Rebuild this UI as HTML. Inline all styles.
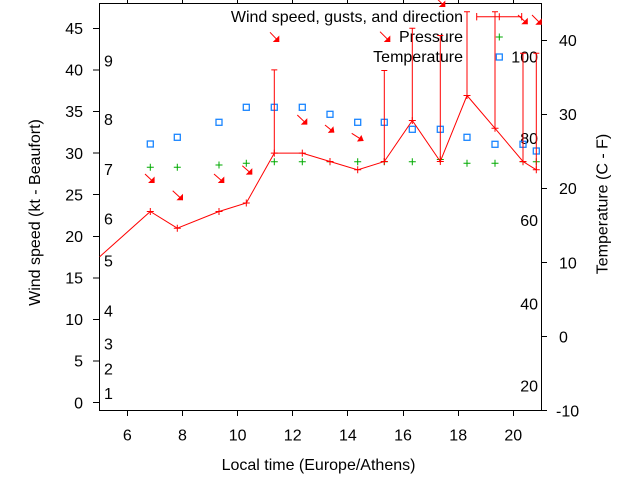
<!DOCTYPE html>
<html>
<head>
<meta charset="utf-8">
<style>
html,body{margin:0;padding:0;background:#fff;}
svg{display:block;}
text{font-family:"Liberation Sans",Arial,sans-serif;font-size:16px;fill:#000;}
</style>
</head>
<body>
<svg width="640" height="480" viewBox="0 0 640 480" xmlns="http://www.w3.org/2000/svg">
<rect width="640" height="480" fill="#fff"/>

<!-- axes frame and ticks -->
<g stroke="#000" stroke-width="1" fill="none" shape-rendering="crispEdges">
  <rect x="99.5" y="3.5" width="442" height="407"/>
  <!-- left ticks -->
  <path d="M93 402.5H99.5M93 361H99.5M93 319.5H99.5M93 277.9H99.5M93 236.3H99.5M93 194.7H99.5M93 153.1H99.5M93 111.5H99.5M93 69.9H99.5M93 28.3H99.5"/>
  <!-- bottom ticks -->
  <path d="M127.5 410.5V416M182.5 410.5V416M237.5 410.5V416M292.5 410.5V416M347.5 410.5V416M403.5 410.5V416M458.5 410.5V416M513.5 410.5V416"/>
  <!-- top ticks -->
  <path d="M127.5 0V3.5M182.5 0V3.5M237.5 0V3.5M292.5 0V3.5M347.5 0V3.5M403.5 0V3.5M458.5 0V3.5M513.5 0V3.5"/>
  <!-- right ticks -->
  <path d="M541.5 410.5H547M541.5 336.5H547M541.5 262.5H547M541.5 188.5H547M541.5 114.5H547M541.5 40.5H547"/>
</g>

<!-- left tick labels -->
<g text-anchor="end">
  <text x="83" y="408.4">0</text>
  <text x="83" y="366.7">5</text>
  <text x="83" y="325.2">10</text>
  <text x="83" y="283.6">15</text>
  <text x="83" y="242">20</text>
  <text x="83" y="200.4">25</text>
  <text x="83" y="158.8">30</text>
  <text x="83" y="117.2">35</text>
  <text x="83" y="75.6">40</text>
  <text x="83" y="34">45</text>
</g>

<!-- bottom tick labels -->
<g text-anchor="middle">
  <text x="127.3" y="440.5">6</text>
  <text x="182.4" y="440.5">8</text>
  <text x="237.6" y="440.5">10</text>
  <text x="292.7" y="440.5">12</text>
  <text x="347.9" y="440.5">14</text>
  <text x="403" y="440.5">16</text>
  <text x="458.2" y="440.5">18</text>
  <text x="513.3" y="440.5">20</text>
</g>

<!-- right tick labels -->
<text x="556" y="416.7">-10</text>
<text x="559" y="342.5">0</text>
<text x="559" y="268.5">10</text>
<text x="559" y="194.2">20</text>
<text x="559" y="120">30</text>
<text x="559" y="46">40</text>

<!-- Beaufort labels -->
<g>
  <text x="104" y="399">1</text>
  <text x="104" y="374.7">2</text>
  <text x="104" y="349.7">3</text>
  <text x="104" y="316.4">4</text>
  <text x="104" y="266.7">5</text>
  <text x="104" y="224.7">6</text>
  <text x="104" y="175">7</text>
  <text x="104" y="125">8</text>
  <text x="104" y="66.4">9</text>
</g>

<!-- Fahrenheit labels -->
<g text-anchor="end">
  <text x="538" y="62.4">100</text>
  <text x="538" y="144.2">80</text>
  <text x="538" y="225.8">60</text>
  <text x="538" y="309.7">40</text>
  <text x="538" y="391.4">20</text>
</g>

<!-- axis labels -->
<text x="318.5" y="470" text-anchor="middle">Local time (Europe/Athens)</text>
<text transform="translate(39.8,212.5) rotate(-90)" text-anchor="middle">Wind speed (kt - Beaufort)</text>
<text transform="translate(607.5,204) rotate(-90)" text-anchor="middle">Temperature (C - F)</text>

<!-- legend text -->
<g text-anchor="end">
  <text x="463" y="21.8">Wind speed, gusts, and direction</text>
  <text x="463" y="41.8">Pressure</text>
  <text x="463" y="61.8">Temperature</text>
</g>

<!-- Temperature squares -->
<g stroke="#1a85ff" stroke-width="1.3" fill="none">
  <rect x="147.3" y="141" width="6" height="6"/>
  <rect x="174.3" y="134.3" width="6" height="6"/>
  <rect x="216" y="119.3" width="6" height="6"/>
  <rect x="243.3" y="104.3" width="6" height="6"/>
  <rect x="271.3" y="104.3" width="6" height="6"/>
  <rect x="299.3" y="104.3" width="6" height="6"/>
  <rect x="327" y="111.3" width="6" height="6"/>
  <rect x="354.7" y="119.3" width="6" height="6"/>
  <rect x="381.3" y="119.3" width="6" height="6"/>
  <rect x="409.3" y="126.3" width="6" height="6"/>
  <rect x="437.3" y="126.3" width="6" height="6"/>
  <rect x="464" y="134.3" width="6" height="6"/>
  <rect x="492" y="141.3" width="6" height="6"/>
  <rect x="520" y="141.3" width="6" height="6"/>
  <rect x="533.3" y="148" width="6" height="6"/>
  <!-- legend -->
  <rect x="496.3" y="54" width="6" height="6"/>
</g>

<!-- Pressure plus markers -->
<g stroke="#00aa00" stroke-width="1" fill="none">
  <path d="M146.8 167.3h7M150.3 163.8v7"/>
  <path d="M173.8 167.3h7M177.3 163.8v7"/>
  <path d="M215.5 165h7M219 161.5v7"/>
  <path d="M242.8 163.3h7M246.3 159.8v7"/>
  <path d="M270.8 161.7h7M274.3 158.2v7"/>
  <path d="M298.8 161.7h7M302.3 158.2v7"/>
  <path d="M326.5 161.7h7M330 158.2v7"/>
  <path d="M354.2 161.7h7M357.7 158.2v7"/>
  <path d="M380.8 161.7h7M384.3 158.2v7"/>
  <path d="M408.8 161.7h7M412.3 158.2v7"/>
  <path d="M436.8 159.5h7M440.3 156v7"/>
  <path d="M463.5 163.3h7M467 159.8v7"/>
  <path d="M491.5 163.3h7M495 159.8v7"/>
  <path d="M519.5 161.7h7M523 158.2v7"/>
  <path d="M532.8 161.7h7M536.3 158.2v7"/>
  <!-- legend -->
  <path d="M495.8 37h7M499.3 33.5v7"/>
</g>

<!-- Wind speed line -->
<g stroke="#ff0000" stroke-width="1" fill="none">
  <polyline points="99.7,256.7 150.3,211.5 177.3,228.2 219,211.5 246.3,203 274.3,153.1 302.3,153.1 330,161.5 357.7,169.8 384.3,161.5 412.3,120.5 440.3,161.5 467,95.5 495,128.3 523,161.5 536.3,169.8"/>
  <!-- markers -->
  <path d="M146.8 211.5h7M150.3 208v7"/>
  <path d="M173.8 228.2h7M177.3 224.7v7"/>
  <path d="M215.5 211.5h7M219 208v7"/>
  <path d="M242.8 203h7M246.3 199.5v7"/>
  <path d="M270.8 153.1h7M274.3 149.6v7"/>
  <path d="M298.8 153.1h7M302.3 149.6v7"/>
  <path d="M326.5 161.5h7M330 158v7"/>
  <path d="M354.2 169.8h7M357.7 166.3v7"/>
  <path d="M380.8 161.5h7M384.3 158v7"/>
  <path d="M408.8 120.5h7M412.3 117v7"/>
  <path d="M436.8 161.5h7M440.3 158v7"/>
  <path d="M463.5 95.5h7M467 92v7"/>
  <path d="M491.5 128.3h7M495 124.8v7"/>
  <path d="M519.5 161.5h7M523 158v7"/>
  <path d="M532.8 169.8h7M536.3 166.3v7"/>
  <!-- gust bars -->
  <path d="M274.3 153.1V69.9M271.3 69.9h6"/>
  <path d="M384.3 161.5V70.5M381.3 70.5h6"/>
  <path d="M412.3 120.5V28.3M409.3 28.3h6"/>
  <path d="M440.3 161.5V35.5M437.3 35.5h6"/>
  <path d="M467 95.5V11.7M464 11.7h6"/>
  <path d="M495 128.3V11.7M492 11.7h6"/>
  <path d="M523 161.5V53.3M520 53.3h6"/>
  <path d="M536.3 169.8V53.3M533.3 53.3h6"/>
  <!-- legend sample -->
  <path d="M476.7 16.7H521.7M476.7 13v7.4M521.7 13v7.4M495.8 16.7h7M499.3 13.2v7"/>
  <!-- arrow shafts -->
  <path d="M145 174L154.3 182.7"/>
  <path d="M172.7 190.7L182.7 200"/>
  <path d="M214 174L224 182.7"/>
  <path d="M242.3 165.7L252 174.3"/>
  <path d="M270 32.3L279 41.7"/>
  <path d="M297.3 115L307 124.3"/>
  <path d="M325 125L334 132.3"/>
  <path d="M351.7 133.3L363.3 140.7"/>
  <path d="M380 31.7L390 41.7"/>
  <path d="M436.3 -2L445 6.7"/>
  <path d="M518 15L527.5 24"/>
  <path d="M532 15L541.5 24.5"/>
</g>
<!-- arrow heads -->
<g fill="#ff0000" stroke="#ff0000" stroke-width="0.6">
  <polygon points="154.3,182.7 148.8,182.7 154.3,177.2"/>
  <polygon points="182.7,200 177.2,200 182.7,194.5"/>
  <polygon points="224,182.7 218.5,182.7 224,177.2"/>
  <polygon points="252,174.3 246.5,174.3 252,168.8"/>
  <polygon points="279,41.7 273.5,41.7 279,36.2"/>
  <polygon points="307,124.3 301.5,124.3 307,118.8"/>
  <polygon points="334,132.3 328.5,132.6 333.2,127"/>
  <polygon points="363.3,140.7 357.6,141.2 361.3,135.7"/>
  <polygon points="390,41.7 384.5,41.7 390,36.2"/>
  <polygon points="445,6.7 439.5,6.7 445,1.2"/>
  <polygon points="527.5,24 522,24 527.5,18.5"/>
  <polygon points="541.5,24.5 536,24.5 541.5,19"/>
</g>
</svg>
</body>
</html>
